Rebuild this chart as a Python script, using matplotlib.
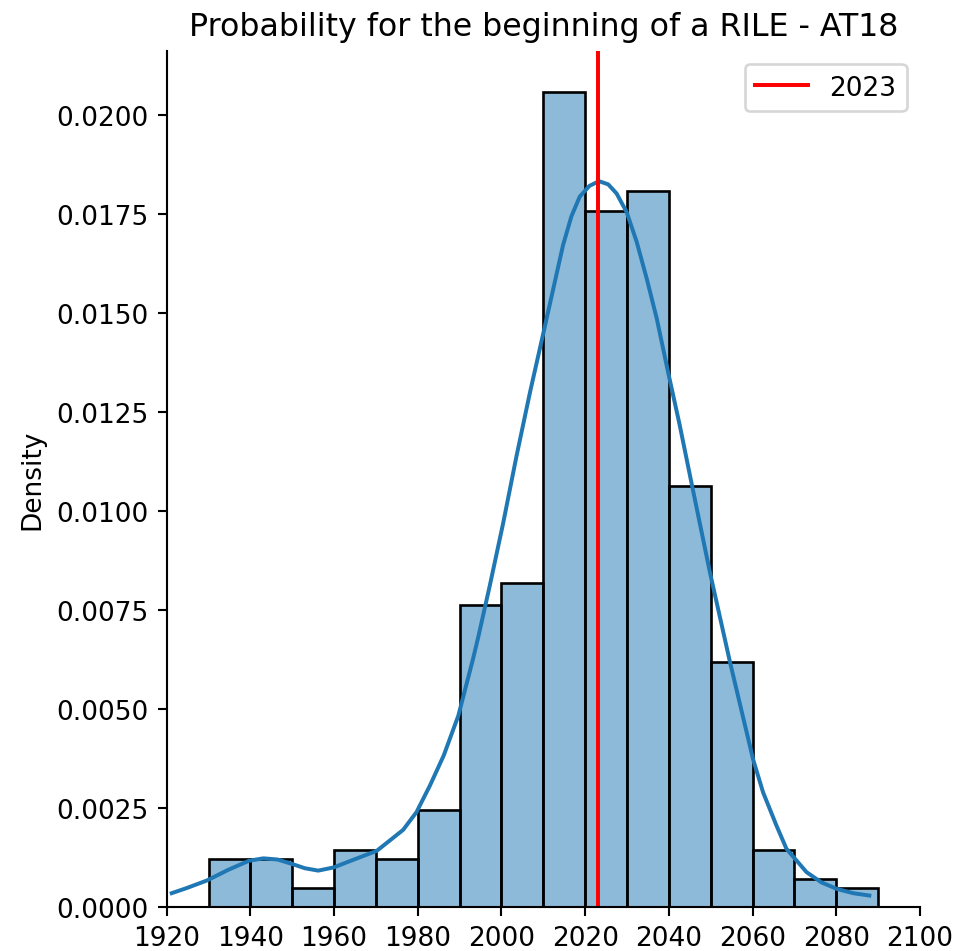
import numpy as np
import matplotlib
matplotlib.use("Agg")
import matplotlib.pyplot as plt
from matplotlib.colors import to_rgba

# histogram (density), 10-year bins
bin_edges = [1930, 1940, 1950, 1960, 1970, 1980, 1990, 2000, 2010,
             2020, 2030, 2040, 2050, 2060, 2070, 2080, 2090]
density = [0.00121, 0.00121, 0.00048, 0.00145, 0.00121, 0.00245,
           0.00764, 0.00818, 0.0206, 0.01758, 0.0181, 0.01065,
           0.00618, 0.00144, 0.00072, 0.00048]

# kde curve, points
kde_year = [1921.2, 1924.8, 1929.6, 1934.7, 1939.7, 1943.1, 1946.5, 1949.9,
            1953.0, 1956.2, 1959.9, 1965.0, 1970.2, 1973.3, 1976.5, 1979.7,
            1982.9, 1986.2, 1989.7, 1993.2, 1994.4, 1997.2, 2000.4, 2003.6,
            2006.8, 2010.0, 2014.7, 2016.7, 2018.7, 2021.0, 2023.3, 2025.5,
            2027.5, 2029.9, 2032.3, 2034.7, 2037.1, 2039.8, 2042.6, 2045.2,
            2049.8, 2054.6, 2060.1, 2062.5, 2065.7, 2068.1, 2072.9, 2076.5,
            2080.1, 2084.0, 2087.9]
kde_dens = [0.00035, 0.00048, 0.00067, 0.00094, 0.00117, 0.00123, 0.00120, 0.00109,
            0.00098, 0.00092, 0.00100, 0.00121, 0.00142, 0.00168, 0.00195, 0.00240,
            0.00307, 0.00383, 0.00484, 0.00627, 0.00680, 0.00812, 0.00970, 0.01140,
            0.01300, 0.01450, 0.01672, 0.01745, 0.01795, 0.01822, 0.01834, 0.01826,
            0.01803, 0.01756, 0.01681, 0.01588, 0.01487, 0.01352, 0.01217, 0.01082,
            0.00846, 0.00619, 0.00374, 0.00290, 0.00206, 0.00147, 0.00088, 0.00062,
            0.00046, 0.00035, 0.00029]

marker_year = 2023

dpi = 190
fig = plt.figure(figsize=(956 / dpi, 952 / dpi), dpi=dpi)
ax = fig.add_axes([0.1744, 0.0462, 0.7879, 0.8992])

edges = np.array(bin_edges)
ax.bar(edges[:-1], density, width=np.diff(edges), align="edge",
       facecolor=to_rgba("C0", 0.5), edgecolor="black", linewidth=1)
ax.plot(kde_year, kde_dens, color="C0", linewidth=1.5)
ax.axvline(marker_year, color="red", label=str(marker_year))

ax.set_xlim(1920, 2100)
ax.set_xticks(np.arange(1920, 2101, 20))
ax.set_ylim(0, max(density) * 1.05)
ax.set_yticks(np.arange(0, 0.0201, 0.0025))
ax.yaxis.set_major_formatter(matplotlib.ticker.FormatStrFormatter("%.4f"))
ax.set_ylabel("Density")
ax.set_title("Probability for the beginning of a RILE - AT18")
ax.legend(loc="upper right")
ax.spines["top"].set_visible(False)
ax.spines["right"].set_visible(False)

fig.savefig("out.png", dpi=dpi)
